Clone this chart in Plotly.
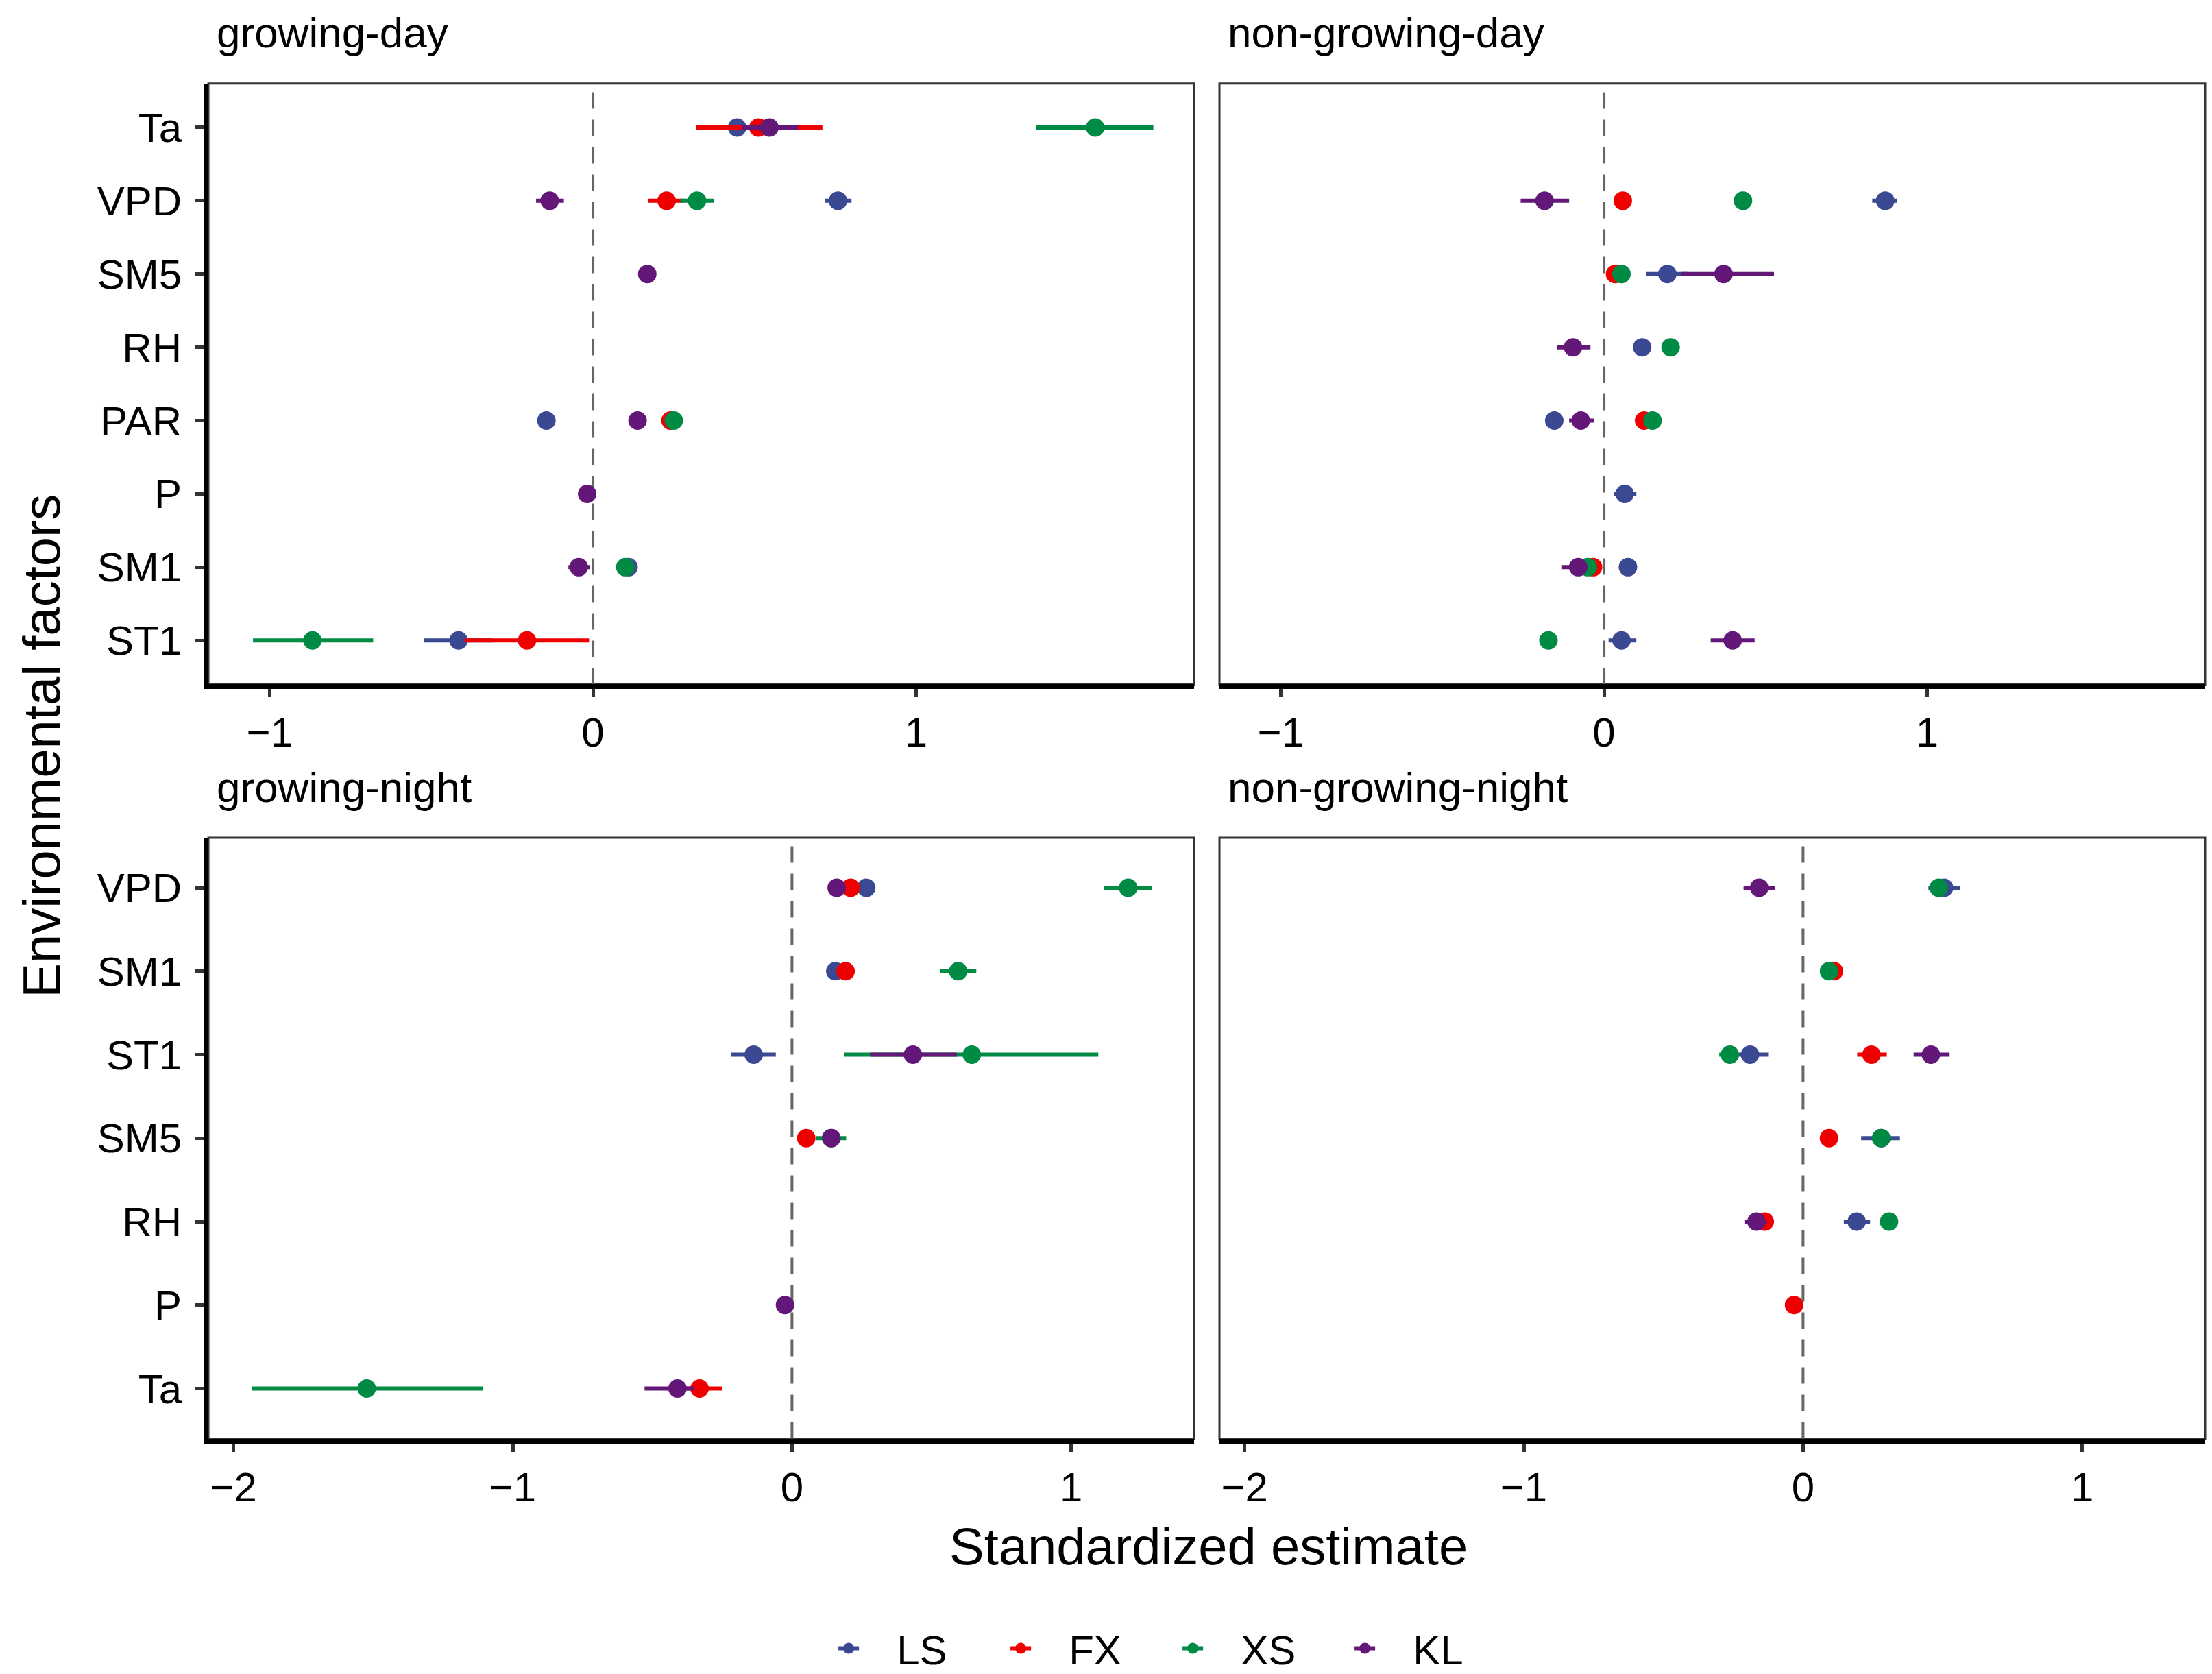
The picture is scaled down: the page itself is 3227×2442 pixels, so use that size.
import plotly.graph_objects as go

# site names and colours (ggsci AAAS palette)
sites = ["LS", "FX", "XS", "KL"]
site_colors = ["#3B4992", "#EE0000", "#008B45", "#631879"]

top_factors = ["Ta", "VPD", "SM5", "RH", "PAR", "P", "SM1", "ST1"]
bottom_factors = ["VPD", "SM1", "ST1", "SM5", "RH", "P", "Ta"]

# growing-day
gd_est = {
    "LS": [0.446, 0.758, None, None, -0.144, None, 0.11, -0.416],
    "FX": [0.512, 0.228, None, None, 0.24, None, None, -0.204],
    "XS": [1.554, 0.322, None, None, 0.25, None, 0.10, -0.868],
    "KL": [0.546, -0.134, 0.168, None, 0.138, -0.018, -0.044, None],
}
gd_lo = {
    "LS": [0.40, 0.718, None, None, -0.16, None, 0.09, -0.522],
    "FX": [0.32, 0.17, None, None, 0.215, None, None, -0.396],
    "XS": [1.37, 0.27, None, None, 0.235, None, 0.09, -1.052],
    "KL": [0.46, -0.176, 0.155, None, 0.125, -0.025, -0.076, None],
}
gd_hi = {
    "LS": [0.50, 0.80, None, None, -0.13, None, 0.13, -0.31],
    "FX": [0.71, 0.28, None, None, 0.26, None, None, -0.012],
    "XS": [1.734, 0.374, None, None, 0.265, None, 0.11, -0.68],
    "KL": [0.634, -0.09, 0.18, None, 0.15, -0.011, -0.01, None],
}

# non-growing-day
nd_est = {
    "LS": [None, 0.87, 0.196, 0.118, -0.154, 0.064, 0.074, 0.054],
    "FX": [None, 0.058, 0.034, None, 0.124, None, -0.034, None],
    "XS": [None, 0.43, 0.054, 0.206, 0.15, None, -0.05, -0.172],
    "KL": [None, -0.184, 0.37, -0.096, -0.072, None, -0.08, 0.398],
}
nd_lo = {
    "LS": [None, 0.83, 0.13, 0.10, -0.165, 0.03, 0.06, 0.014],
    "FX": [None, 0.05, 0.03, None, 0.115, None, -0.04, None],
    "XS": [None, 0.42, 0.05, 0.20, 0.14, None, -0.06, -0.18],
    "KL": [None, -0.258, 0.24, -0.146, -0.108, None, -0.13, 0.33],
}
nd_hi = {
    "LS": [None, 0.906, 0.26, 0.135, -0.14, 0.10, 0.09, 0.10],
    "FX": [None, 0.066, 0.04, None, 0.13, None, -0.028, None],
    "XS": [None, 0.44, 0.06, 0.21, 0.16, None, -0.04, -0.165],
    "KL": [None, -0.108, 0.526, -0.042, -0.032, None, -0.05, 0.466],
}

# growing-night
gn_est = {
    "LS": [0.266, 0.155, -0.137, None, None, None, None],
    "FX": [0.21, 0.192, None, 0.051, None, None, -0.331],
    "XS": [1.204, 0.595, 0.644, 0.14, None, None, -1.523],
    "KL": [0.16, None, 0.433, 0.141, None, -0.025, -0.41],
}
gn_lo = {
    "LS": [0.24, 0.14, -0.218, None, None, None, None],
    "FX": [0.19, 0.18, None, 0.03, None, None, -0.40],
    "XS": [1.116, 0.53, 0.1875, 0.086, None, None, -1.935],
    "KL": [0.15, None, 0.28, 0.13, None, -0.03, -0.528],
}
gn_hi = {
    "LS": [0.29, 0.17, -0.058, None, None, None, None],
    "FX": [0.23, 0.205, None, 0.07, None, None, -0.25],
    "XS": [1.289, 0.66, 1.097, 0.194, None, None, -1.106],
    "KL": [0.17, None, 0.59, 0.15, None, -0.02, -0.35],
}

# non-growing-night
nn_est = {
    "LS": [0.505, None, -0.19, 0.28, 0.192, None, None],
    "FX": [None, 0.111, 0.245, 0.093, -0.137, -0.032, None],
    "XS": [0.486, 0.093, -0.262, 0.28, 0.308, None, None],
    "KL": [-0.157, None, 0.458, None, -0.167, None, None],
}
nn_lo = {
    "LS": [0.449, None, -0.23, 0.208, 0.146, None, None],
    "FX": [None, 0.10, 0.194, 0.085, -0.145, -0.04, None],
    "XS": [0.476, 0.085, -0.30, 0.27, 0.30, None, None],
    "KL": [-0.213, None, 0.396, None, -0.21, None, None],
}
nn_hi = {
    "LS": [0.5625, None, -0.125, 0.347, 0.24, None, None],
    "FX": [None, 0.12, 0.30, 0.10, -0.13, -0.025, None],
    "XS": [0.496, 0.10, -0.24, 0.29, 0.316, None, None],
    "KL": [-0.10, None, 0.525, None, -0.13, None, None],
}

panels = [
    ("growing-day", top_factors, gd_est, gd_lo, gd_hi),
    ("non-growing-day", top_factors, nd_est, nd_lo, nd_hi),
    ("growing-night", bottom_factors, gn_est, gn_lo, gn_hi),
    ("non-growing-night", bottom_factors, nn_est, nn_lo, nn_hi),
]

W, H = 3227, 2442
FONT = "Liberation Sans, Arial, Helvetica, sans-serif"

# panel pixel boxes (left, right, top, bottom)
col_px = [(296, 1734), (1771, 3209)]
row_px = [(114, 992), (1216, 2094)]
x_ranges = [[-1.19, 1.86], [-2.09, 1.44]]
x_ticks = [[-1, 0, 1], [-2, -1, 0, 1]]

fig = go.Figure()

for i, (title, factors, est, lo, hi) in enumerate(panels):
    n = str(i + 1) if i else ""
    xa, ya = "x" + n, "y" + n
    for site, color in zip(sites, site_colors):
        xs, ys, ep, em = [], [], [], []
        for f, e, l, h in zip(factors, est[site], lo[site], hi[site]):
            if e is None:
                continue
            xs.append(e)
            ys.append(f)
            ep.append(h - e)
            em.append(e - l)
        fig.add_trace(go.Scatter(
            x=xs, y=ys, xaxis=xa, yaxis=ya, mode="markers",
            marker=dict(color=color, size=27),
            error_x=dict(type="data", array=ep, arrayminus=em,
                         color=color, thickness=6, width=0),
            showlegend=False, hoverinfo="x+y",
        ))

# legend-only entries (point + range key like ggplot)
for site, color in zip(sites, site_colors):
    fig.add_trace(go.Scatter(
        x=[None], y=[None], mode="lines+markers",
        name="\u00a0\u00a0\u00a0" + site,
        marker=dict(color=color, size=27), line=dict(color=color, width=6),
    ))

layout = dict(
    width=W, height=H,
    margin=dict(l=0, r=0, t=0, b=0),
    paper_bgcolor="white", plot_bgcolor="white",
    font=dict(family=FONT, size=60, color="black"),
    showlegend=True,
    legend=dict(orientation="h", x=0.375, xanchor="left", y=0.017,
                yanchor="middle", font=dict(size=60),
                entrywidth=206, entrywidthmode="pixels",
                itemsizing="trace"),
    shapes=[], annotations=[],
)

for i, (title, factors, est, lo, hi) in enumerate(panels):
    r, c = divmod(i, 2)
    n = str(i + 1) if i else ""
    l, rr = col_px[c]
    t, b = row_px[r]
    xdom = [l / W, rr / W]
    ydom = [1 - b / H, 1 - t / H]
    layout["xaxis" + n] = dict(
        domain=xdom, anchor="y" + n, range=x_ranges[r],
        tickvals=x_ticks[r], ticks="outside", ticklen=12, tickwidth=5,
        tickcolor="#333333", showgrid=False, zeroline=False,
        showline=True, linecolor="black", linewidth=7,
        tickfont=dict(size=60, color="black"),
    )
    layout["yaxis" + n] = dict(
        domain=ydom, anchor="x" + n, type="category",
        categoryorder="array", categoryarray=factors,
        range=[len(factors) - 1 + 0.6, -0.6],
        ticks="outside" if c == 0 else "", ticklen=12, tickwidth=5,
        tickcolor="#333333", showgrid=False, zeroline=False,
        showticklabels=(c == 0), showline=(c == 0),
        linecolor="black", linewidth=7, ticklabelstandoff=8,
        tickfont=dict(size=60, color="black"),
    )
    layout["shapes"].append(dict(
        type="rect", xref="x" + n + " domain", yref="y" + n + " domain",
        x0=0, x1=1, y0=0, y1=1, line=dict(color="#333333", width=3),
        layer="below",
    ))
    layout["shapes"].append(dict(
        type="line", xref="x" + n, yref="y" + n + " domain",
        x0=0, x1=0, y0=0, y1=1,
        line=dict(color="#666666", width=4, dash="24px,16px"),
        layer="below",
    ))
    layout["annotations"].append(dict(
        text=title, xref="paper", yref="paper",
        x=(l + 10) / W, xanchor="left",
        y=1 - (t - 74) / H, yanchor="middle",
        showarrow=False, font=dict(size=62, color="black"),
    ))

layout["annotations"].append(dict(
    text="Standardized estimate", xref="paper", yref="paper",
    x=0.5438, y=0.0782, xanchor="center", yanchor="middle",
    showarrow=False, font=dict(size=76, color="black"),
))
layout["annotations"].append(dict(
    text="Environmental factors", xref="paper", yref="paper",
    x=0.016, y=0.557, xanchor="center", yanchor="middle", textangle=-90,
    showarrow=False, font=dict(size=76, color="black"),
))

fig.update_layout(**layout)
fig.write_html("out.html")
